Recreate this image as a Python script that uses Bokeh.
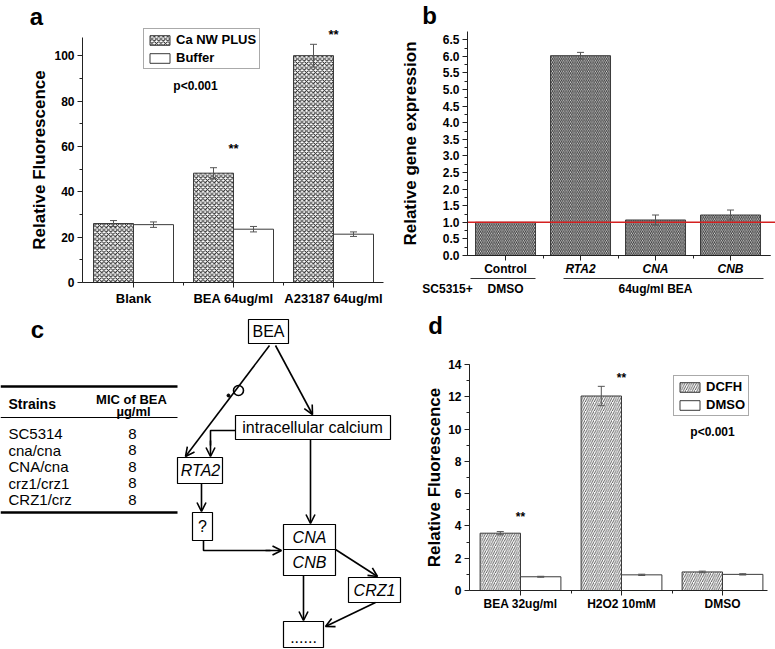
import numpy as np
from bokeh.plotting import figure
from bokeh.models import (Range1d, FixedTicker, SingleIntervalTicker, NumeralTickFormatter,
                          Whisker, TeeHead, ColumnDataSource, Legend, LegendItem, Label,
                          LinearAxis, Arrow, OpenHead)
from bokeh.layouts import row, column
from bokeh.embed import file_html
from bokeh.resources import INLINE
from bokeh.core.properties import value

# ---------------- data ----------------
# panel a
a_cats = ["Blank", "BEA 64ug/ml", "A23187 64ug/ml"]
a_series = ["Ca NW PLUS", "Buffer"]
a_ca = [26.0, 48.2, 100.0]
a_ca_err = [1.3, 2.4, 5.0]
a_buf = [25.5, 23.5, 21.3]
a_buf_err = [1.2, 1.2, 1.0]

# panel b
b_cats = ["Control", "RTA2", "CNA", "CNB"]
b_styles = ["bold", "bold italic", "bold italic", "bold italic"]
b_vals = [1.0, 6.02, 1.07, 1.22]
b_err = [0.0, 0.1, 0.15, 0.15]
b_ref = 1.0

# panel c
c_strains = ["SC5314", "cna/cna", "CNA/cna", "crz1/crz1", "CRZ1/crz"]
c_mic = ["8", "8", "8", "8", "8"]

# panel d
d_cats = ["BEA 32ug/ml", "H2O2 10mM", "DMSO"]
d_series = ["DCFH", "DMSO"]
d_dcfh = [3.55, 12.05, 1.15]
d_dcfh_err = [0.1, 0.6, 0.05]
d_dmso = [0.85, 0.97, 1.0]
d_dmso_err = [0.03, 0.04, 0.04]

FONT = "Liberation Sans"
INK = "#222222"
EDGE = "#3a3a3a"
ERR = "#555555"
ROW1 = 312          # height of the upper row
ROW2 = 649 - ROW1   # height of the lower row


def base_fig(w, h, xr, yr, axes=True):
    kw = {}
    if not axes:
        kw = dict(x_axis_location=None, y_axis_location=None)
    p = figure(width=w, height=h, x_range=Range1d(*xr), y_range=Range1d(*yr),
               output_backend="svg", toolbar_location=None, title=None,
               min_border_left=0, min_border_right=0,
               min_border_top=0, min_border_bottom=0, **kw)
    p.outline_line_color = None
    p.grid.visible = False
    p.background_fill_color = "white"
    p.border_fill_color = "white"
    return p


def style_axis(ax, size="12px", style="bold", standoff=3):
    ax.axis_line_color = INK
    ax.major_tick_line_color = INK
    ax.minor_tick_line_color = INK
    ax.major_tick_in = 0
    ax.major_tick_out = 5
    ax.minor_tick_in = 0
    ax.minor_tick_out = 3
    ax.major_label_text_font = FONT
    ax.major_label_text_font_style = style
    ax.major_label_text_font_size = size
    ax.major_label_text_color = "black"
    ax.major_label_standoff = standoff


def style_axes(p, ylabel, yint, ybounds, yloc, ystandoff, cats, xbounds, xsize, xstandoff):
    n = len(cats)
    ya = p.yaxis[0]
    style_axis(ya)
    ya.fixed_location = yloc
    ya.ticker = SingleIntervalTicker(interval=yint, num_minor_ticks=2)
    ya.bounds = ybounds
    ya.axis_label = ylabel
    ya.axis_label_text_font = FONT
    ya.axis_label_text_font_style = "bold"
    ya.axis_label_text_font_size = "17px"
    ya.axis_label_text_color = "black"
    ya.axis_label_standoff = ystandoff
    xa = p.xaxis[0]
    style_axis(xa, xsize, "bold", xstandoff)
    xa.fixed_location = 0
    xa.bounds = xbounds
    xa.ticker = FixedTicker(ticks=list(range(n)), minor_ticks=[i + 0.5 for i in range(n - 1)])
    xa.major_label_overrides = {i: c for i, c in enumerate(cats)}


def add_err(p, x, vals, errs):
    keep = [i for i in range(len(vals)) if errs[i] > 0]
    src = ColumnDataSource(dict(x=[x[i] for i in keep],
                                upper=[vals[i] + errs[i] for i in keep],
                                lower=[vals[i] - errs[i] for i in keep]))
    w = Whisker(source=src, base="x", upper="upper", lower="lower",
                line_color=ERR, line_width=1, level="annotation",
                upper_head=TeeHead(size=7, line_color=ERR, line_width=1),
                lower_head=TeeHead(size=7, line_color=ERR, line_width=1))
    p.add_layout(w)


def text_label(p, x, y, txt, size="12px", style="bold", align="center"):
    p.add_layout(Label(x=x, y=y, text=txt, text_font=FONT, text_font_size=size,
                       text_font_style=style, text_align=align,
                       text_baseline="middle", text_color="black"))


def make_legend(p, labels, rends, loc):
    leg = Legend(items=[LegendItem(label=l, renderers=[r]) for l, r in zip(labels, rends)],
                 location=loc, orientation="vertical",
                 label_text_font=FONT, label_text_font_style="bold",
                 label_text_font_size="13px", label_text_color="black",
                 glyph_width=25, glyph_height=12, label_height=13,
                 label_standoff=4, padding=3, spacing=3, margin=0,
                 border_line_color="#555555", border_line_width=1,
                 background_fill_color="white", background_fill_alpha=1)
    p.add_layout(leg, "center")


# ---------------- panel a (page x 0..390, y 0..ROW1) ----------------
def ax_(px): return -0.51 + (px - 82) / 100.0
def ay_(py): return (282 - py) / 2.2685

na = len(a_cats)
xa = np.arange(na)
pa = base_fig(390, ROW1, (ax_(0), ax_(390)), (ay_(ROW1), ay_(0)))
style_axes(pa, "Relative Fluorescence", 20, (0, 108), ax_(82), 2, a_cats,
           (ax_(82), ax_(383)), "13px", 3)
ra1 = pa.vbar(x=list(xa - 0.2), top=a_ca, width=0.4, fill_color="white",
              line_color=EDGE, line_width=1, hatch_pattern="x", hatch_color="#1a1a1a",
              hatch_scale=4.5, hatch_weight=1.0)
ra2 = pa.vbar(x=list(xa + 0.2), top=a_buf, width=0.4, fill_color="white",
              line_color=EDGE, line_width=1)
add_err(pa, list(xa - 0.2), a_ca, a_ca_err)
add_err(pa, list(xa + 0.2), a_buf, a_buf_err)
make_legend(pa, a_series, [ra1, ra2], (143 - 0, ROW1 - 69))
text_label(pa, ax_(195), ay_(85), "p<0.001", "12px")
text_label(pa, 1, ay_(148), "**", "13px")
text_label(pa, 2, ay_(34), "**", "13px")
text_label(pa, ax_(36), ay_(16), "a", "24px")

# ---------------- panel b (page x 390..775) ----------------
def bx_(px): return -0.507 + (px - 467) / 75.0
def by_(py): return (255 - py) / 33.19

nb = len(b_cats)
xb = np.arange(nb)
pb = base_fig(385, ROW1, (bx_(390), bx_(775)), (by_(ROW1), by_(0)))
style_axes(pb, "Relative gene expression", 0.5, (0, by_(31)), bx_(467), 20, b_cats,
           (bx_(467), bx_(770)), "12px", 1)
pb.yaxis.formatter = NumeralTickFormatter(format="0.0")
ital = [i for i, s in enumerate(b_styles) if "italic" in s]
plain = [i for i, s in enumerate(b_styles) if "italic" not in s]
pb.xaxis[0].ticker = FixedTicker(ticks=ital, minor_ticks=[i + 0.5 for i in range(nb - 1)])
pb.xaxis[0].major_label_overrides = {i: b_cats[i] for i in ital}
pb.xaxis[0].major_label_text_font_style = "bold italic"
ax2 = LinearAxis(fixed_location=0, bounds=(bx_(467), bx_(770)),
                 ticker=FixedTicker(ticks=plain, minor_ticks=[]),
                 major_label_overrides={i: b_cats[i] for i in plain})
style_axis(ax2, "12px", "bold", 1)
pb.add_layout(ax2, "below")
pb.vbar(x=list(xb), top=b_vals, width=0.8, fill_color="white", line_color=EDGE,
        line_width=1, hatch_pattern="\\", hatch_color="#333333", hatch_scale=3.6,
        hatch_weight=1.1)
add_err(pb, list(xb), b_vals, b_err)
pb.segment(x0=[bx_(467)], x1=[bx_(775)], y0=[b_ref], y1=[b_ref], line_color="#d42020",
           line_width=1.5)
# group lines and labels under the axis
pb.add_layout(Arrow(end=None, x_start=bx_(470), y_start=by_(278), x_end=bx_(535),
                    y_end=by_(278), line_color="#333333", line_width=1))
pb.add_layout(Arrow(end=None, x_start=bx_(563), y_start=by_(278), x_end=bx_(763),
                    y_end=by_(278), line_color="#333333", line_width=1))
text_label(pb, bx_(447), by_(288), "SC5315+", "12px")
text_label(pb, 0, by_(288), "DMSO", "12px")
text_label(pb, (ital[0] + ital[-1]) / 2.0, by_(288), "64ug/ml BEA", "12px")
text_label(pb, bx_(429), by_(15), "b", "24px")

# ---------------- panel c (page x 0..405, y ROW1..649) ----------------
pc = base_fig(405, ROW2, (0, 405), (649, ROW1), axes=False)
pc.segment(x0=[0, 0, 0], x1=[177, 177, 177], y0=[386, 417, 512], y1=[386, 417, 512],
           line_color="black", line_width=[2.5, 1, 2.5])
pc.text(x=[8], y=[403], text=["Strains"], text_font=value(FONT), text_font_size="14px",
        text_font_style="bold", text_align="left", text_baseline="middle")
pc.text(x=[131, 133], y=[399, 411], text=["MIC of BEA", "\u00b5g/ml"], text_font=value(FONT),
        text_font_size="13px", text_font_style="bold", text_align="center",
        text_baseline="middle")
ry = [433 + 16.5 * i for i in range(len(c_strains))]
pc.text(x=[8] * len(c_strains), y=ry, text=c_strains, text_font=value(FONT),
        text_font_size="15px", text_align="left", text_baseline="middle")
pc.text(x=[132] * len(c_mic), y=ry, text=c_mic, text_font=value(FONT),
        text_font_size="15px", text_align="center", text_baseline="middle")

# diagram boxes: BEA, intracellular, RTA2, ?, CNA/CNB, CRZ1, ......
bl = [248, 235, 177, 192, 283, 348, 283]
br = [288, 390, 222, 212, 335, 400, 323]
bt = [319, 415, 457, 512, 524, 577, 621]
bb = [343, 439, 483, 540, 575, 602, 647]
pc.quad(left=bl, right=br, top=bt, bottom=bb, fill_color="white", line_color="black",
        line_width=1.2)
pc.segment(x0=[283], x1=[335], y0=[549], y1=[549], line_color="black", line_width=1.2)
tx = [268, 312, 200, 202, 309, 309, 374, 303]
ty = [331, 427, 470, 526, 537, 562, 590, 636]
tt = ["BEA", "intracellular calcium", "RTA2", "?", "CNA", "CNB", "CRZ1", "......"]
ts = ["normal", "normal", "italic", "normal", "italic", "italic", "italic", "normal"]
pc.text(x=tx, y=ty, text=tt, text_font=value(FONT), text_font_size="16px",
        text_font_style=ts, text_align="center", text_baseline="middle", text_color="black")
pc.multi_line(xs=[[235, 210, 210], [203, 203, 270]], ys=[[430, 430, 445], [540, 550, 550]],
              line_color="black", line_width=1.6)
arrows = [((269, 345), (185, 456)), ((275, 345), (312, 414)), ((210, 440), (210, 456)),
          ((201, 483), (201, 511)), ((265, 550), (281, 550)), ((310, 439), (310, 523)),
          ((335, 549), (377, 576)), ((303, 575), (303, 620)), ((375, 602), (325, 626))]
for (x0, y0), (x1, y1) in arrows:
    pc.add_layout(Arrow(x_start=x0, y_start=y0, x_end=x1, y_end=y1, line_color="black",
                        line_width=1.6,
                        end=OpenHead(size=9, line_color="black", line_width=1.6)))
pc.circle(x=[238], y=[390], radius=5, fill_color=None, line_color="black", line_width=1.6)
pc.scatter(x=[228], y=[395], size=3, color="black")
pc.text(x=[37], y=[329], text=["c"], text_font=value(FONT), text_font_size="24px",
        text_font_style="bold", text_align="center", text_baseline="middle")

# ---------------- panel d (page x 405..775, y ROW1..649) ----------------
def dx_(px): return -0.505 + (px - 469) / 101.0
def dy_(py): return (590 - py) / 16.14

nd = len(d_cats)
xd = np.arange(nd)
pdd = base_fig(370, ROW2, (dx_(405), dx_(775)), (dy_(649), dy_(ROW1)))
style_axes(pdd, "Relative Fluorescence", 2, (0, 14), dx_(469), 1, d_cats,
           (dx_(469), dx_(767)), "12px", 1)
rd1 = pdd.vbar(x=list(xd - 0.2), top=d_dcfh, width=0.4, fill_color="white",
               line_color=EDGE, line_width=1, hatch_pattern="/", hatch_color="#333333",
               hatch_scale=4.5, hatch_weight=0.8)
rd2 = pdd.vbar(x=list(xd + 0.2), top=d_dmso, width=0.4, fill_color="white",
               line_color=EDGE, line_width=1)
add_err(pdd, list(xd - 0.2), d_dcfh, d_dcfh_err)
add_err(pdd, list(xd + 0.2), d_dmso, d_dmso_err)
make_legend(pdd, d_series, [rd1, rd2], (673 - 405, 649 - 416))
text_label(pdd, dx_(712), dy_(431), "p<0.001", "12px")
text_label(pdd, 0, dy_(516), "**", "12px")
text_label(pdd, 1, dy_(377), "**", "12px")
text_label(pdd, dx_(435), dy_(325), "d", "24px")

layout = column(row(pa, pb), row(pc, pdd))
open("out.html", "w").write(file_html(layout, INLINE))
